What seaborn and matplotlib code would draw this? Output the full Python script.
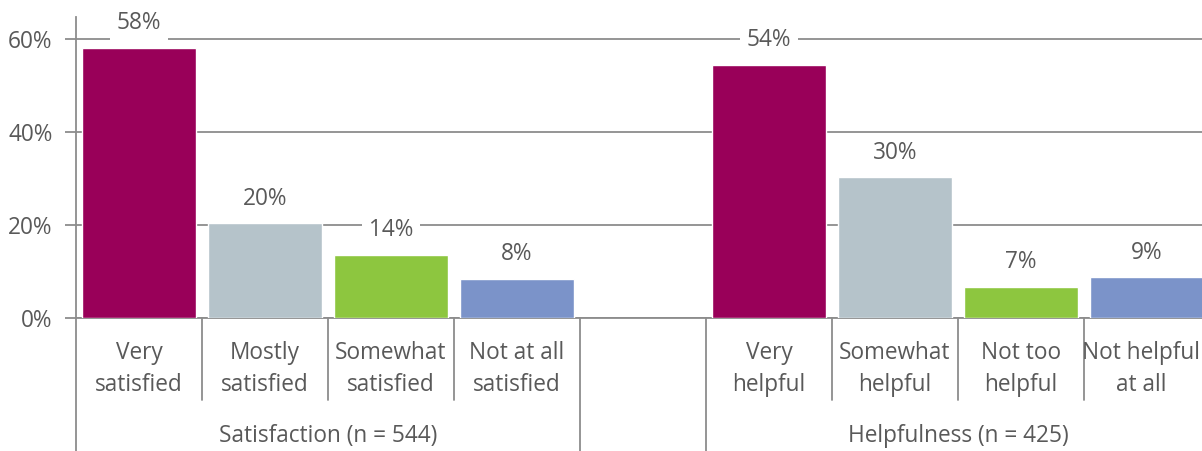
import numpy as np
import pandas as pd
import matplotlib
matplotlib.use("Agg")
import matplotlib.pyplot as plt
import matplotlib.transforms as mtransforms
import seaborn as sns

# ---- data ----
satisfaction_items = ["Very\nsatisfied", "Mostly\nsatisfied", "Somewhat\nsatisfied", "Not at all\nsatisfied"]
satisfaction_values = [58.1, 20.4, 13.6, 8.4]
helpfulness_items = ["Very\nhelpful", "Somewhat\nhelpful", "Not too\nhelpful", "Not helpful\nat all"]
helpfulness_values = [54.4, 30.3, 6.7, 8.8]
group_labels = ["Satisfaction (n = 544)", "Helpfulness (n = 425)"]
levels = ["top", "second", "third", "bottom"]
level_colors = ["#990059", "#B5C3CA", "#8DC63F", "#7B93C9"]
y_ticks = [0, 20, 40, 60]
y_tick_labels = ["0%", "20%", "40%", "60%"]

sns.set_theme(style="white")
plt.rcParams['font.family'] = ['Open Sans', 'DejaVu Sans']

TXT = "#595959"
LINE = "#8C8C8C"
FS = 16.3

spacer = " "
df = pd.DataFrame({
    "item": satisfaction_items + helpfulness_items,
    "value": satisfaction_values + helpfulness_values,
    "level": levels + levels,
})
order = satisfaction_items + [spacer] + helpfulness_items

fig = plt.figure(figsize=(12.02, 4.51), dpi=100)
ax = fig.add_axes([76 / 1202, (451 - 318) / 451, 1134 / 1202, 301 / 451])

sns.barplot(data=df, x="item", y="value", hue="level", order=order,
            hue_order=levels, palette=level_colors, dodge=False, width=0.9,
            saturation=1, legend=False, ax=ax, zorder=3)

ax.set_xlim(-0.5, 8.5)
ax.set_ylim(0, 64.7)
ax.set_yticks(y_ticks)
ax.set_yticklabels(y_tick_labels, fontsize=FS, color=TXT)
ax.tick_params(axis="y", length=8, width=1.3, color=LINE, pad=9, left=True)
ax.set_xticks([])
ax.set_xlabel("")
ax.set_ylabel("")
ax.grid(axis="y", color=LINE, linewidth=1.3, zorder=0)
ax.set_axisbelow(True)
for s in ["top", "right"]:
    ax.spines[s].set_visible(False)
ax.spines["left"].set_color(LINE)
ax.spines["left"].set_linewidth(1.3)
ax.spines["bottom"].set_color(LINE)
ax.spines["bottom"].set_linewidth(1.3)

# bar value labels
for cont in ax.containers:
    labs = [f"{round(b.get_height())}%" if not np.isnan(b.get_height()) else "" for b in cont]
    ax.bar_label(cont, labels=labs, padding=9, fontsize=FS, color=TXT,
                 bbox=dict(facecolor="white", edgecolor="none", pad=5))

# category labels and separators
trans = mtransforms.blended_transform_factory(ax.transData, ax.transAxes)
fig.canvas.draw()
renderer = fig.canvas.get_renderer()
fig_w = fig.bbox.width
for i, name in enumerate(order):
    if name == spacer:
        continue
    t = ax.text(i, -0.078, name, transform=trans, ha="center", va="top",
                fontsize=FS, color=TXT, linespacing=1.42)
    bb = t.get_window_extent(renderer)
    if bb.x1 > fig_w - 2:
        shift = bb.x1 - (fig_w - 2)
        t.set_transform(trans + mtransforms.ScaledTranslation(-shift / 100, 0, fig.dpi_scale_trans))

for xb in [0.5, 1.5, 2.5, 5.5, 6.5, 7.5]:
    ax.plot([xb, xb], [0, -0.272], transform=trans, color=LINE, lw=1.3, clip_on=False)
for xb in [-0.5, 3.5, 4.5]:
    ax.plot([xb, xb], [0, -0.45], transform=trans, color=LINE, lw=1.3, clip_on=False)

ax.text(1.5, -0.393, group_labels[0], transform=trans, ha="center", va="center",
        fontsize=FS, color=TXT)
ax.text(6.5, -0.393, group_labels[1], transform=trans, ha="center", va="center",
        fontsize=FS, color=TXT)

fig.savefig("out.png", dpi=100)
